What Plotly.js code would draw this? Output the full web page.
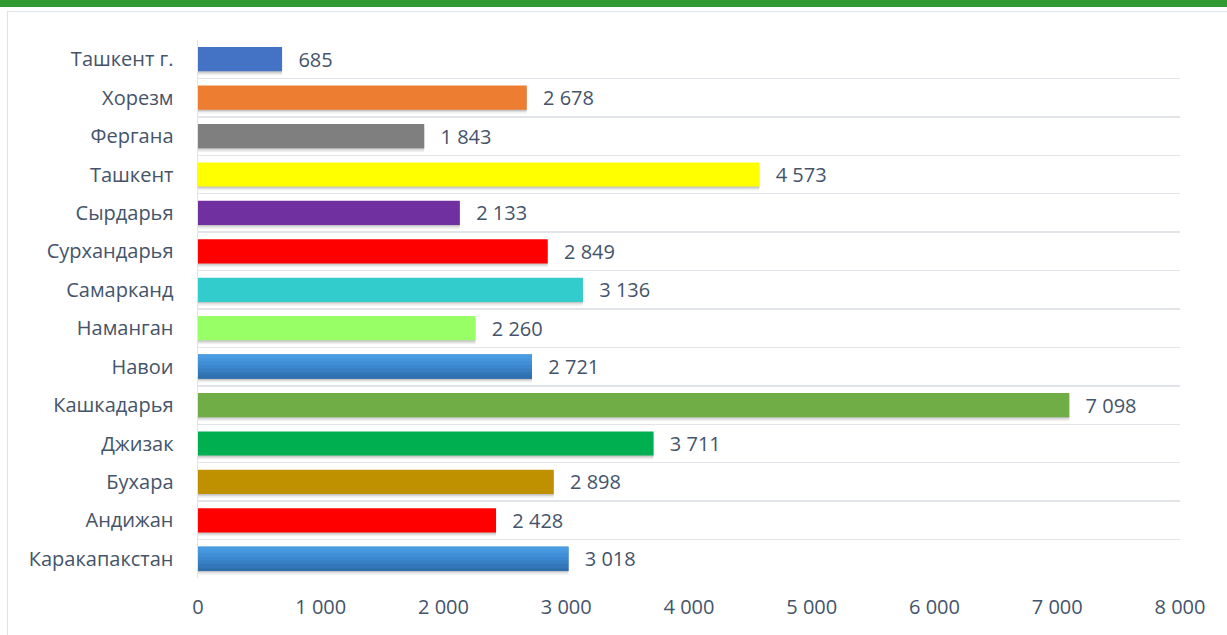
<!DOCTYPE html>
<html>
<head>
<meta charset="utf-8">
<script src="https://cdn.plot.ly/plotly-3.0.1.min.js"></script>
<style>
  html, body { margin: 0; padding: 0; background: #ffffff; overflow: hidden; }
  #wrap { position: relative; width: 1227px; height: 635px; }
  #topbar { position: absolute; left: 0; top: 0; width: 1227px; height: 7px; background: #339933; }
  #frame { position: absolute; left: 7px; top: 11px; width: 1240px; height: 640px; border: 1.5px solid #dde3ea; }
  #chart { position: absolute; left: 0; top: 0; width: 1227px; height: 635px; }
</style>
</head>
<body>
<div id="wrap">
  <div id="topbar"></div>
  <div id="frame"></div>
  <div id="chart"></div>
</div>
<script>
// Data (bottom to top)
const regions = ["Каракапакстан", "Андижан", "Бухара", "Джизак", "Кашкадарья", "Навои", "Наманган", "Самарканд", "Сурхандарья", "Сырдарья", "Ташкент", "Фергана", "Хорезм", "Ташкент г."];
const values = [3018, 2428, 2898, 3711, 7098, 2721, 2260, 3136, 2849, 2133, 4573, 1843, 2678, 685];
const barColors = ["#3d82c8", "#ff0000", "#bf9000", "#00b050", "#70ad47", "#3d82c8", "#99ff66", "#33cccc", "#ff0000", "#7030a0", "#ffff00", "#7f7f7f", "#ed7d31", "#4472c4"];
const gradientBars = ["Каракапакстан", "Навои"];
const xTicks = [0, 1000, 2000, 3000, 4000, 5000, 6000, 7000, 8000];

const textColor = "#44546a";
const fontFamily = "'Open Sans', 'Noto Sans', sans-serif";
const labelSize = 20;
const numberSize = 20;

const W = 0.63;       // bar thickness in category units
const half = W / 2;

const traces = [];

// soft shadows below the bars
[[0.10, "rgba(0,0,0,0.06)"], [0.06, "rgba(0,0,0,0.08)"], [0.03, "rgba(0,0,0,0.10)"]].forEach(([dy, c]) => {
  traces.push({
    type: "bar", orientation: "h", y: regions, x: values,
    width: W, offset: -half - dy,
    marker: { color: c, line: { width: 0 } },
    hoverinfo: "skip", showlegend: false
  });
});

// main bars with value labels
traces.push({
  type: "bar", orientation: "h", y: regions, x: values,
  width: W, offset: -half,
  marker: { color: barColors, line: { width: 0 } },
  texttemplate: "\u2002\u2009%{x:,}",
  textposition: "outside",
  constraintext: "none",
  cliponaxis: false,
  textfont: { family: fontFamily, size: numberSize, color: textColor },
  hoverinfo: "skip", showlegend: false
});

// vertical gradient for the two blue gradient bars (light top -> darker bottom)
const gradStops = ["#2f6fae", "#3477b9", "#387fc3", "#3c87cd", "#408fd6", "#4596dd", "#499ce2"];
const gy = regions.filter(r => gradientBars.includes(r));
const gx = gy.map(r => values[regions.indexOf(r)]);
gradStops.forEach((c, i) => {
  const bw = W / gradStops.length;
  traces.push({
    type: "bar", orientation: "h", y: gy, x: gx,
    width: bw + 0.005, offset: -half + i * bw,
    marker: { color: c, line: { width: 0 } },
    hoverinfo: "skip", showlegend: false
  });
});

const layout = {
  width: 1227,
  height: 635,
  margin: { l: 198, r: 47, t: 40, b: 57 },
  paper_bgcolor: "rgba(0,0,0,0)",
  plot_bgcolor: "rgba(0,0,0,0)",
  separators: ", ",
  barmode: "overlay",
  showlegend: false,
  font: { family: fontFamily, size: labelSize, color: textColor },
  xaxis: {
    range: [0, 8000],
    tickvals: xTicks,
    tickformat: ",",
    showgrid: false,
    zeroline: false,
    showline: false,
    ticks: "",
    ticklabelstandoff: 15,
    tickfont: { family: fontFamily, size: numberSize, color: textColor },
    fixedrange: true
  },
  yaxis: {
    type: "category",
    categoryorder: "array",
    categoryarray: regions,
    tickson: "boundaries",
    showgrid: true,
    gridcolor: "#e1e5ea",
    gridwidth: 1.5,
    showline: true,
    linecolor: "#e1e5ea",
    linewidth: 1.5,
    ticks: "",
    ticklabelstandoff: 19,
    tickfont: { family: fontFamily, size: labelSize, color: textColor },
    fixedrange: true
  }
};

Plotly.newPlot("chart", traces, layout, { displayModeBar: false, staticPlot: true });
</script>
</body>
</html>
